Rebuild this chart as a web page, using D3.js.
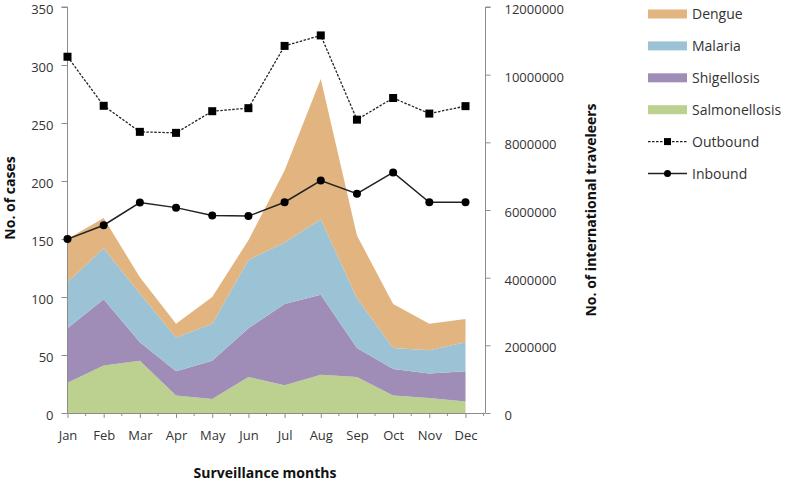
<!DOCTYPE html>
<html><head><meta charset="utf-8">
<script src="https://cdn.jsdelivr.net/npm/d3@7"></script>
<style>body{margin:0;background:#fff;} text{font-family:"Open Sans","DejaVu Sans",sans-serif;}</style>
</head><body>
<svg id="c" width="787" height="482"></svg>
<script>
const months = ["Jan","Feb","Mar","Apr","May","Jun","Jul","Aug","Sep","Oct","Nov","Dec"];
const salmonellosis = [26, 41, 45, 15, 12, 31, 24, 33, 31, 15, 13, 10];
const shigellosis   = [47, 57, 16, 21, 33, 42, 70, 69, 25, 23, 21, 26];
const malaria       = [40, 44, 42, 29, 32, 59, 53, 65, 43, 18, 20, 25];
const dengue        = [37, 26, 14, 12, 23, 17, 62, 121, 54, 38, 23, 20];
const outbound = [10530000, 9080000, 8310000, 8280000, 8920000, 9010000, 10850000, 11160000, 8670000, 9310000, 8850000, 9070000];
const inbound  = [5140000, 5550000, 6220000, 6070000, 5840000, 5820000, 6230000, 6870000, 6480000, 7110000, 6230000, 6230000];
const leftTicks = [0,50,100,150,200,250,300,350];
const rightTicks = [0,2000000,4000000,6000000,8000000,10000000,12000000];

const diseaseNames = ["Salmonellosis","Shigellosis","Malaria","Dengue"];
const diseaseColors = {Salmonellosis:"#bcd08f", Shigellosis:"#9f8cb7", Malaria:"#9cc3d5", Dengue:"#e2b47f"};
const diseaseData = {Salmonellosis:salmonellosis, Shigellosis:shigellosis, Malaria:malaria, Dengue:dengue};

const svg = d3.select("#c");
const x0 = 67.5, xDec = 465.5, xRightAxis = 485.5, yTop = 7, yBot = 413;
const textCol = "#333";
const axisCol = "#8c8c8c";

const x = d3.scalePoint().domain(months).range([x0, xDec]);
const yL = d3.scaleLinear().domain([0,350]).range([yBot, yTop]);
const yR = d3.scaleLinear().domain([0,12000000]).range([yBot, yTop]);

// stacked areas
const rows = months.map((m,i)=>{const r={month:m}; diseaseNames.forEach(n=>r[n]=diseaseData[n][i]); return r;});
const stack = d3.stack().keys(diseaseNames)(rows);
const area = d3.area().x(d=>x(d.data.month)).y0(d=>yL(d[0])).y1(d=>yL(d[1]));
svg.append("g").selectAll("path").data(stack).join("path")
  .attr("d", area).attr("fill", d=>diseaseColors[d.key]);

// axes
const gL = svg.append("g").attr("transform",`translate(${x0},0)`)
  .call(d3.axisLeft(yL).tickValues(leftTicks).tickSize(6).tickPadding(8).tickFormat(d3.format("d")));
const gR = svg.append("g").attr("transform",`translate(${xRightAxis},0)`)
  .call(d3.axisRight(yR).tickValues(rightTicks).tickSize(5).tickPadding(14).tickFormat(d3.format("d")));
const gX = svg.append("g").attr("transform",`translate(0,${yBot})`)
  .call(d3.axisBottom(x).tickSize(5).tickPadding(13));
// minor ticks at half months and x-axis extension
const step = x.step();
const minor = months.map(m=>x(m)+step/2);
svg.append("g").selectAll("line").data(minor).join("line")
  .attr("x1",d=>d).attr("x2",d=>d).attr("y1",yBot).attr("y2",yBot+3).attr("stroke",axisCol);
svg.append("line").attr("x1",x0).attr("x2",xRightAxis).attr("y1",yBot+0.5).attr("y2",yBot+0.5).attr("stroke",axisCol);
[gL,gR,gX].forEach(g=>{
  g.selectAll("path.domain").attr("stroke",axisCol);
  g.selectAll(".tick line").attr("stroke",axisCol);
  g.selectAll("text").attr("fill",textCol).style("font-size","13px").style("font-family","'Open Sans','DejaVu Sans',sans-serif");
});
gL.selectAll("text").attr("dy","0.5em");
gR.selectAll("text").attr("dy","0.5em");
gX.select("path.domain").remove();
gL.select("path.domain").attr("d",`M-6,${yTop}H0V${yBot}`);
gR.select("path.domain").attr("d",`M5,${yTop}H0V${yBot}`);

// lines
const lineOut = d3.line().x((d,i)=>x(months[i])).y(d=>yR(d));
svg.append("path").datum(outbound).attr("d",lineOut).attr("fill","none")
  .attr("stroke","#222").attr("stroke-width",1.3).attr("stroke-dasharray","2.5,1.5");
svg.append("g").selectAll("rect").data(outbound).join("rect")
  .attr("x",(d,i)=>x(months[i])-4).attr("y",d=>yR(d)-4).attr("width",8).attr("height",8).attr("fill","#000");
svg.append("path").datum(inbound).attr("d",lineOut).attr("fill","none")
  .attr("stroke","#222").attr("stroke-width",1.5);
svg.append("g").selectAll("circle").data(inbound).join("circle")
  .attr("cx",(d,i)=>x(months[i])).attr("cy",d=>yR(d)).attr("r",4).attr("fill","#000");

// axis titles
svg.append("text").attr("transform","translate(15,198) rotate(-90)").attr("text-anchor","middle")
  .attr("font-weight","bold").attr("fill","#111").style("font-size","14px").text("No. of cases");
svg.append("text").attr("transform","translate(596,210) rotate(-90)").attr("text-anchor","middle")
  .attr("font-weight","bold").attr("fill","#111").style("font-size","14px").text("No. of international traveleers");
svg.append("text").attr("x",265).attr("y",478).attr("text-anchor","middle")
  .attr("font-weight","bold").attr("fill","#111").style("font-size","14px").text("Surveillance months");

// legend
const legend = [
  {name:"Dengue", type:"area"},
  {name:"Malaria", type:"area"},
  {name:"Shigellosis", type:"area"},
  {name:"Salmonellosis", type:"area"},
  {name:"Outbound", type:"dash"},
  {name:"Inbound", type:"solid"}
];
const lg = svg.append("g");
legend.forEach((l,i)=>{
  const cy = 14 + i*31.9;
  if(l.type==="area"){
    lg.append("rect").attr("x",648).attr("y",cy-4.5).attr("width",39).attr("height",9).attr("fill",diseaseColors[l.name]);
  } else {
    lg.append("line").attr("x1",648).attr("x2",687).attr("y1",cy).attr("y2",cy).attr("stroke","#222")
      .attr("stroke-width",1.3).attr("stroke-dasharray", l.type==="dash"?"2.5,1.5":null);
    if(l.type==="dash") lg.append("rect").attr("x",664).attr("y",cy-3.5).attr("width",7).attr("height",7).attr("fill","#000");
    else lg.append("circle").attr("cx",667.5).attr("cy",cy).attr("r",3.5).attr("fill","#000");
  }
  lg.append("text").attr("x",692).attr("y",cy+5).attr("fill",textCol).style("font-size","14px").text(l.name);
});
</script>
</body></html>
